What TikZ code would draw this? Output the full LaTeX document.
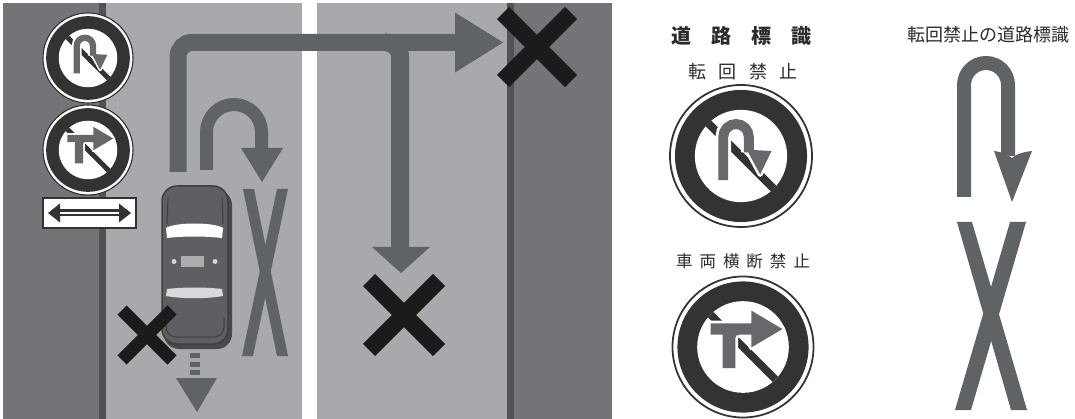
\documentclass[tikz,border=0pt]{standalone}
\usepackage{fontspec}
\newfontfamily\jpfont{Noto Sans CJK JP}
\usetikzlibrary{calc}

\definecolor{sidewalk}{HTML}{727477}
\definecolor{curb}{HTML}{505255}
\definecolor{roadgray}{HTML}{A7A9AC}
\definecolor{markgray}{HTML}{606366}
\definecolor{crossblack}{HTML}{1C1B1C}
\definecolor{signblack}{HTML}{333333}
\definecolor{symbolgray}{HTML}{66686B}
\definecolor{labelgray}{HTML}{2B2B2B}
\definecolor{carbody}{HTML}{5D5F62}
\definecolor{caredge}{HTML}{3C3E40}
\definecolor{carshadow}{HTML}{48494B}

% round prohibition signs, #1 = outer radius
\tikzset{
  signring/.style={line width=0.025*#1},
  pics/uturnsign/.style={code={
    \begin{scope}[scale=#1]
      \filldraw[fill=white, draw=signblack, signring=#1] (0,0) circle (1);
      \fill[signblack] (0,0) circle (0.93);
      \fill[white] (0,0) circle (0.65);
      \draw[signblack, line width=0.11*#1] (-0.46,-0.46) -- (0.46,0.46);
      % U-turn arrow with a white edge
      \draw[white, line width=0.22*#1] (-0.25,0.34) -- (-0.25,-0.27)
        arc[start angle=180, end angle=360, radius=0.18] -- (0.11,-0.05);
      \fill[white, draw=white, line join=round, line width=0.07*#1]
        (0.08,-0.09) -- (0.43,-0.07) -- (0.27,0.26) -- cycle;
      \draw[symbolgray, line width=0.14*#1] (-0.25,0.34) -- (-0.25,-0.27)
        arc[start angle=180, end angle=360, radius=0.18] -- (0.11,-0.05);
      \fill[symbolgray] (0.08,-0.09) -- (0.43,-0.07) -- (0.27,0.26) -- cycle;
    \end{scope}
  }},
  pics/crossingsign/.style={code={
    \begin{scope}[scale=#1]
      \filldraw[fill=white, draw=signblack, signring=#1] (0,0) circle (1);
      \fill[signblack] (0,0) circle (0.93);
      \fill[white] (0,0) circle (0.65);
      \draw[signblack, line width=0.11*#1] (-0.46,-0.46) -- (0.46,0.46);
      % turning arrow with a white edge
      \fill[symbolgray, preaction={draw=white, line join=round, line width=0.08*#1}]
        (-0.46,-0.335) -- (0.12,-0.335) -- (0.12,-0.515) -- (0.56,-0.255)
        -- (0.12,0.005) -- (0.12,-0.175) -- (0,-0.175)
        .. controls (-0.11,-0.175) .. (-0.11,-0.065) -- (-0.11,0.30)
        -- (-0.29,0.30) -- (-0.29,-0.175) -- (-0.46,-0.175) -- cycle;
    \end{scope}
  }}
}

\begin{document}
\begin{tikzpicture}[x=1pt, y=-1pt,
    markline/.style={markgray, line width=17, rounded corners=14},
    crossmark/.style={crossblack, line width=#1},
    label/.style={text=labelgray, inner sep=0pt}]
  \useasboundingbox (0,0) rectangle (1075,419);
  \fill[white] (0,0) rectangle (1075,419);

  % road seen from above
  \fill[sidewalk] (3,3) rectangle (100,419);
  \fill[curb] (99,3) rectangle (106,419);
  \fill[roadgray] (106,3) rectangle (302,419);
  \fill[white] (302,3) rectangle (317,419);
  \fill[roadgray] (317,3) rectangle (507,419);
  \fill[curb] (507,3) rectangle (514,419);
  \fill[sidewalk] (514,3) rectangle (612,419);

  % signs at the kerb
  \pic (roadsignA) at (88,58) {uturnsign=45};
  \pic (roadsignB) at (88,150) {crossingsign=45};
  \filldraw[fill=white, draw=signblack, line width=2.5] (43,198) rectangle (136,228);
  \draw[signblack, line width=7] (58,213) -- (121,213);
  \fill[signblack] (48,213) -- (60,203.5) -- (60,222.5) -- cycle;
  \fill[signblack] (131,213) -- (119,203.5) -- (119,222.5) -- cycle;
  \draw[white, line width=2] (60,213) -- (119,213);

  % crossing to the far side
  \draw[markline] (178,172) -- (178,42.5) -- (456,42.5);
  \fill[markgray] (455,12.5) -- (503,42.5) -- (455,72.5) -- cycle;
  \draw[markline, line width=18] (385,42.5) -- (400,42.5) -- (400,248);
  \fill[markgray] (372,247) -- (430,247) -- (401,273) -- cycle;

  % U-turn
  \draw[markgray, line width=13] (206.5,170) -- (206.5,132)
    arc[start angle=180, end angle=360, radius=27.5] -- (261.5,150);
  \fill[markgray] (241,148) -- (283,148) -- (262,182) -- cycle;

  % X marking on the lane
  \fill[markgray] (243,189) -- (254,189) -- (288,356) -- (277,356) -- cycle;
  \fill[markgray] (277,189) -- (288,189) -- (253,356) -- (242,356) -- cycle;

  % car
  \fill[carshadow, rounded corners=15] (164,190) rectangle (232,349);
  \filldraw[fill=carbody, draw=caredge, line width=1.5, rounded corners=15]
    (162,186) rectangle (228,344);
  \draw[caredge, line width=1] (168,198) -- (167,224) (222,198) -- (223,224);
  \fill[white] (167,238) -- (166,228) .. controls (175,222) and (214,222) .. (223,228)
    -- (222,238) .. controls (205,236) and (183,236) .. (167,238) -- cycle;
  \fill[gray!30] (167,289) .. controls (183,287) and (206,287) .. (222,289)
    -- (223,296) .. controls (206,299) and (183,299) .. (166,296) -- cycle;
  \fill[gray!65] (181,256) rectangle (204,267);
  \fill[gray!35] (174,261.5) circle (2.5) (215,261.5) circle (2.5);
  \draw[caredge, line width=1, rounded corners=10] (166,318) -- (166,337) -- (224,337) -- (224,318);

  % reversing
  \draw[markgray, line width=10, dash pattern=on 5 off 3.5] (195,353) -- (195,375);
  \fill[markgray] (176,378) -- (217,378) -- (197,412) -- cycle;

  % not allowed
  \draw[crossmark=13] (122,310) -- (172,360) (172,310) -- (122,360);
  \draw[crossmark=17] (369,280) -- (439,350) (439,280) -- (369,350);
  \draw[crossmark=17] (503,13) -- (571,81) (571,13) -- (503,81);

  % sign captions
  \node[label, font=\jpfont\bfseries\fontsize{20}{20}\selectfont] (title) at (741,36)
    {道\hspace{20pt}路\hspace{20pt}標\hspace{20pt}識};
  \node[label, font=\jpfont\fontsize{18}{18}\selectfont] (uturnlabel) at (743,71.5)
    {転\hspace{12.5pt}回\hspace{12.5pt}禁\hspace{12.5pt}止};
  \pic (signuturn) at (741,156) {uturnsign=71};
  \node[label, font=\jpfont\fontsize{16.5}{16.5}\selectfont] (crossinglabel) at (743,261)
    {車\hspace{7pt}両\hspace{7pt}横\hspace{7pt}断\hspace{7pt}禁\hspace{7pt}止};
  \pic (signcrossing) at (743,347) {crossingsign=70.5};

  % road marking
  \node[label, font=\jpfont\fontsize{18}{18}\selectfont] (markinglabel) at (988,35)
    {転回禁止の道路標識};
  \draw[markgray, line width=14] (964,197) -- (964,85)
    arc[start angle=180, end angle=360, radius=22] -- (1008,156);
  \fill[markgray] (994,151) -- (1012,202) -- (1032,151)
    .. controls (1022,152) and (1015,155) .. (1012,158)
    .. controls (1008,155) and (1002,152) .. (994,151) -- cycle;
  \fill[markgray] (957,222) -- (972,222) -- (1027,410) -- (1011,410) -- cycle;
  \fill[markgray] (1010,222) -- (1026,222) -- (971,410) -- (955,410) -- cycle;
\end{tikzpicture}
\end{document}
